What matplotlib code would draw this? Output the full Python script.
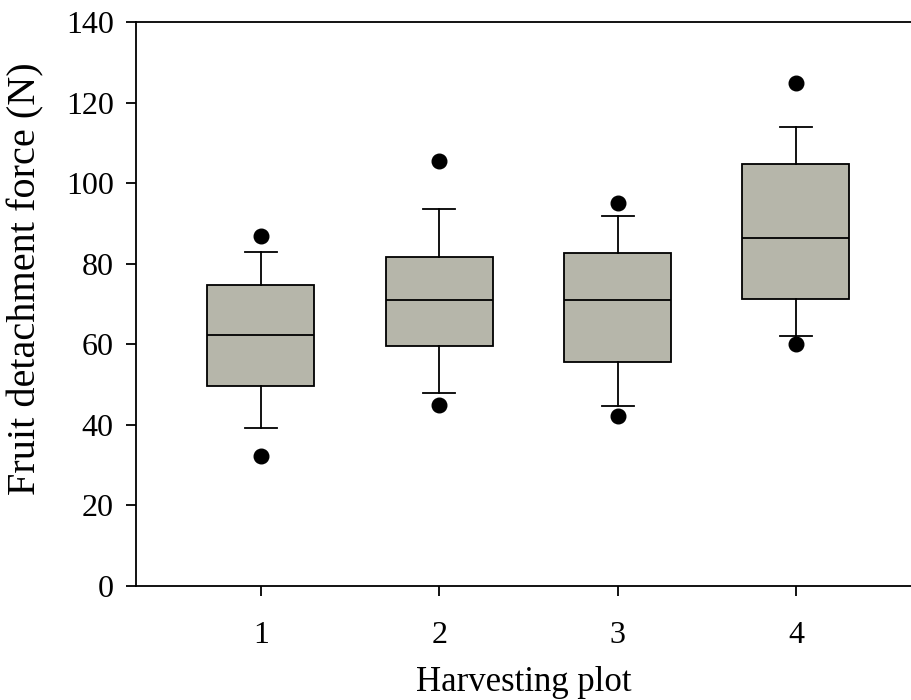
import matplotlib.pyplot as plt

plt.rcParams['font.family'] = ['Liberation Serif', 'DejaVu Serif']

# values
plots = [1, 2, 3, 4]
whisker_low = [39.3, 48.0, 44.6, 62.0]
q1 = [49.7, 59.6, 55.5, 71.2]
medians = [62.4, 70.9, 70.9, 86.4]
q3 = [74.6, 81.7, 82.6, 104.7]
whisker_high = [83.0, 93.6, 91.8, 114.0]
outliers = [[32.3, 86.9], [44.9, 105.4], [42.2, 95.0], [60.0, 124.8]]
y_ticks = [0, 20, 40, 60, 80, 100, 120, 140]

stats = []
for i in range(len(plots)):
    stats.append({
        'whislo': whisker_low[i], 'q1': q1[i], 'med': medians[i],
        'q3': q3[i], 'whishi': whisker_high[i], 'fliers': outliers[i],
    })

fig = plt.figure(figsize=(9.11, 7), dpi=100)
ax = fig.add_axes([136 / 911, 1 - 586 / 700, 1 - 136 / 911, (586 - 22) / 700])

lw = 1.3
ax.bxp(stats, positions=plots, widths=0.6, patch_artist=True, showfliers=True,
       boxprops=dict(facecolor='#b6b6aa', edgecolor='black', linewidth=lw),
       medianprops=dict(color='black', linewidth=lw),
       whiskerprops=dict(color='black', linewidth=lw),
       capprops=dict(color='black', linewidth=lw),
       capwidths=0.18,
       flierprops=dict(marker='o', markerfacecolor='black', markeredgecolor='black',
                       markersize=10.5, linestyle='none'))

ax.set_xlim(0.3, 4.645)
ax.set_ylim(0, 140)
ax.set_yticks(y_ticks)
ax.set_xticks(plots)
ax.set_xticklabels([str(p) for p in plots])

ax.spines['right'].set_visible(False)
for s in ['left', 'bottom', 'top']:
    ax.spines[s].set_linewidth(lw)
ax.tick_params(axis='both', direction='out', length=7, width=lw, labelsize=23)
ax.tick_params(axis='x', pad=18)
ax.tick_params(axis='y', pad=9)

ax.set_xlabel('Harvesting plot', fontsize=25, labelpad=12)
ax.set_ylabel('Fruit detachment force (N)', fontsize=29)
ax.yaxis.set_label_coords(-0.118, 0.545)

fig.savefig('out.png', dpi=100)
